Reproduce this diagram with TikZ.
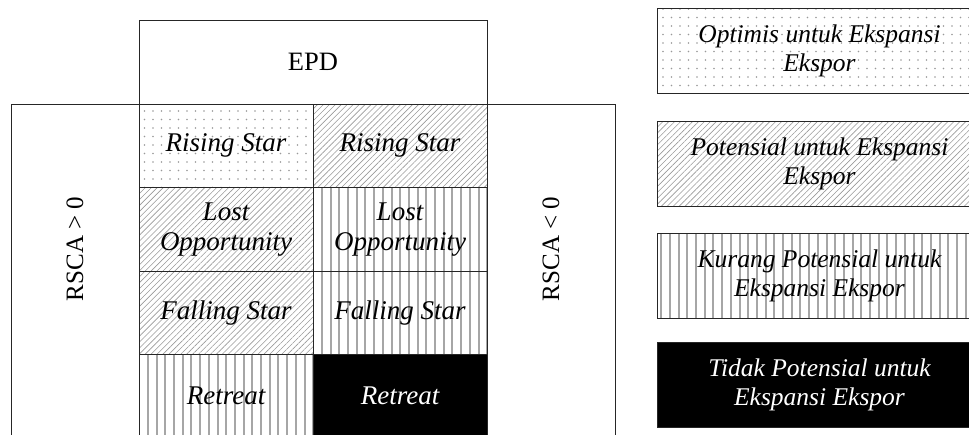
\documentclass[tikz,border=0pt]{standalone}
\usepackage{fontspec}
\setmainfont{Liberation Serif}
\usetikzlibrary{patterns.meta}
\begin{document}
\begin{tikzpicture}[x=1pt,y=-1pt,
  frame/.style={draw=black!85, line width=1pt, inner sep=0pt, outer sep=0pt, anchor=north west},
  cell/.style={frame, minimum width=174pt, minimum height=83.5pt},
  legend/.style={frame, minimum width=325pt, minimum height=85pt},
  celltext/.style={inner sep=0pt, align=center, font=\itshape\fontsize{27}{30}\selectfont},
  legtext/.style={inner sep=0pt, align=center, font=\itshape\fontsize{25.5}{29}\selectfont},
  dotfill/.style={pattern={Dots[distance=8.5pt, radius=0.8pt]}, pattern color=black!40},
  diagfill/.style={pattern={Lines[angle=45, distance=4.2pt, line width=0.6pt]}, pattern color=black!40},
  vertfill/.style={pattern={Lines[angle=90, distance=8.7pt, line width=2pt]}, pattern color=black!35},
  blackfill/.style={fill=black},
  plain/.style={inner sep=0pt, font=\fontsize{25}{29}\selectfont}]
\useasboundingbox (0,0) rectangle (969,434);
% header and side boxes
\node[frame, minimum width=348pt, minimum height=84pt] (epd) at (139,20) {};
\node[inner sep=0pt, font=\fontsize{26.5}{30}\selectfont] (epdt) at (epd.center) {EPD};
\node[frame, minimum width=128pt, minimum height=333pt] (lbox) at (11,104) {};
\node[frame, minimum width=128pt, minimum height=333pt] (rbox) at (487,104) {};
\node[plain, rotate=90] (ltext) at (75,249) {RSCA > 0};
\node[plain, rotate=90] (rtext) at (551,249) {RSCA < 0};
% grid cells
\node[cell, dotfill] (c11) at (139,104) {};
\node[cell, diagfill] (c12) at (313,104) {};
\node[cell, diagfill] (c21) at (139,187.5) {};
\node[cell, vertfill] (c22) at (313,187.5) {};
\node[cell, diagfill] (c31) at (139,271) {};
\node[cell, vertfill] (c32) at (313,271) {};
\node[cell, vertfill] (c41) at (139,354.5) {};
\node[cell, blackfill] (c42) at (313,354.5) {};
\node[celltext] (t11) at (c11.center) {Rising Star};
\node[celltext] (t12) at (c12.center) {Rising Star};
\node[celltext] (t21) at (c21.center) {Lost\\Opportunity};
\node[celltext] (t22) at (c22.center) {Lost\\Opportunity};
\node[celltext] (t31) at (c31.center) {Falling Star};
\node[celltext] (t32) at (c32.center) {Falling Star};
\node[celltext] (t41) at (c41.center) {Retreat};
\node[celltext, text=white] (t42) at (c42.center) {Retreat};
% legend
\node[legend, dotfill] (l1) at (657,8) {};
\node[legend, diagfill] (l2) at (657,121) {};
\node[legend, vertfill] (l3) at (657,233) {};
\node[legend, blackfill] (l4) at (657,342) {};
\node[legtext] (lt1) at (l1.center) {Optimis untuk Ekspansi\\Ekspor};
\node[legtext] (lt2) at (l2.center) {Potensial untuk Ekspansi\\Ekspor};
\node[legtext] (lt3) at (l3.center) {Kurang Potensial untuk\\Ekspansi Ekspor};
\node[legtext, text=white] (lt4) at (l4.center) {Tidak Potensial untuk\\Ekspansi Ekspor};
\end{tikzpicture}
\end{document}
